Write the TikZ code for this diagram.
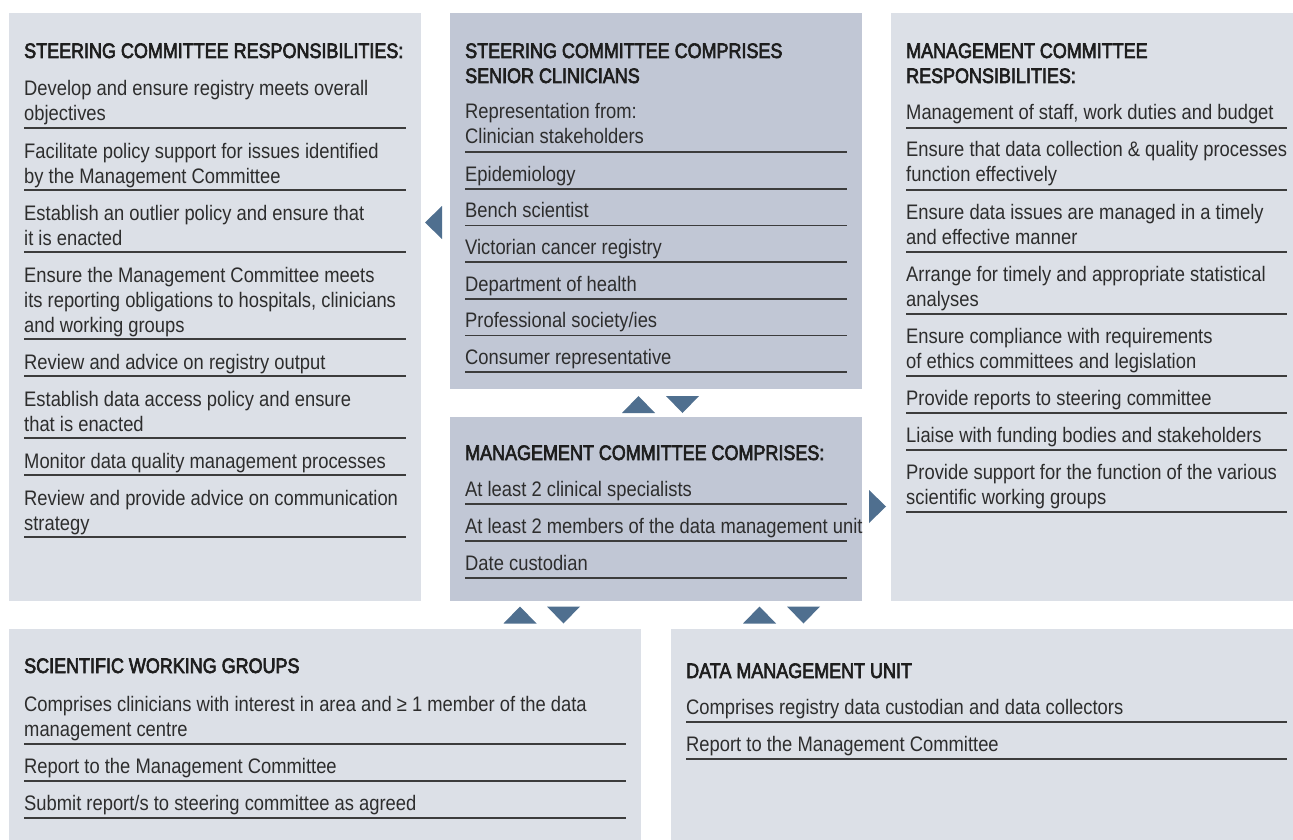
\documentclass[tikz,border=0pt]{standalone}
\usepackage{fontspec}
\setmainfont{Liberation Sans}[FakeStretch=0.875]
\newfontfamily\headfont{Liberation Sans}[FakeStretch=0.855,FakeBold=3]
\definecolor{boxlight}{RGB}{220,224,231}
\definecolor{boxdark}{RGB}{193,199,213}
\definecolor{triblue}{RGB}{79,111,143}
\definecolor{rulegray}{RGB}{60,60,60}
\definecolor{bodytext}{RGB}{45,45,45}
\definecolor{headtext}{RGB}{30,30,30}
% multi-line cell whose reference point is the first baseline
\newcommand\ml[1]{\begin{tabular}[t]{@{}l@{}}#1\end{tabular}}
% up / down markers centred at (x,y)
\newcommand\uptri[2]{\fill[tri] ({#1-16.5},{#2+8.5}) -- ({#1+16.5},{#2+8.5}) -- (#1,{#2-8.5}) -- cycle;}
\newcommand\dntri[2]{\fill[tri] ({#1-16.5},{#2-8.5}) -- ({#1+16.5},{#2-8.5}) -- (#1,{#2+8.5}) -- cycle;}
\begin{document}
\begin{tikzpicture}[x=1pt,y=-1pt,
  panel/.style={anchor=north west,inner sep=0pt,outer sep=0pt,draw=none},
  lightpanel/.style={panel,fill=boxlight},
  darkpanel/.style={panel,fill=boxdark},
  body/.style={anchor=base west,inner sep=0pt,text=bodytext,font=\fontsize{21}{25}\selectfont},
  head/.style={anchor=base west,inner sep=0pt,text=headtext,font=\headfont\fontsize{21}{25}\selectfont},
  rule/.style={draw=rulegray,line width=1.3pt},
  tri/.style={fill=triblue}]
\useasboundingbox (0,0) rectangle (1293,840);
\fill[white] (0,0) rectangle (1293,840);

% panels
\node[lightpanel,minimum width=412pt,minimum height=588pt] (scr) at (9,13) {};
\node[darkpanel,minimum width=412pt,minimum height=376pt] (scc) at (450,13) {};
\node[darkpanel,minimum width=412pt,minimum height=184pt] (mcc) at (450,417) {};
\node[lightpanel,minimum width=402pt,minimum height=588pt] (mcr) at (891,13) {};
\node[lightpanel,minimum width=632pt,minimum height=211pt] (swg) at (9,629) {};
\node[lightpanel,minimum width=622pt,minimum height=211pt] (dmu) at (671,629) {};

% markers
\fill[tri] (425,222.5) -- (442,206) -- (442,239) -- cycle;
\fill[tri] (886,506.5) -- (869,490) -- (869,523) -- cycle;
\uptri{638.5}{404.5}
\dntri{682.5}{404.5}
\uptri{520}{615}
\dntri{563.5}{615}
\uptri{759.5}{615}
\dntri{803.5}{615}

% steering committee responsibilities
\node[head] (scrT) at (24,58) {STEERING COMMITTEE RESPONSIBILITIES:};
\node[body] (scr1) at (24,96) {\ml{Develop and ensure registry meets overall\\objectives}};
\draw[rule] (24,128) -- (406,128);
\node[body] (scr2) at (24,158) {\ml{Facilitate policy support for issues identified\\by the Management Committee}};
\draw[rule] (24,190) -- (406,190);
\node[body] (scr3) at (24,220) {\ml{Establish an outlier policy and ensure that\\it is enacted}};
\draw[rule] (24,252) -- (406,252);
\node[body] (scr4) at (24,282) {\ml{Ensure the Management Committee meets\\its reporting obligations to hospitals, clinicians\\and working groups}};
\draw[rule] (24,339) -- (406,339);
\node[body] (scr5) at (24,369) {Review and advice on registry output};
\draw[rule] (24,376) -- (406,376);
\node[body] (scr6) at (24,406) {\ml{Establish data access policy and ensure\\that is enacted}};
\draw[rule] (24,438) -- (406,438);
\node[body] (scr7) at (24,468) {Monitor data quality management processes};
\draw[rule] (24,475) -- (406,475);
\node[body] (scr8) at (24,505) {\ml{Review and provide advice on communication\\strategy}};
\draw[rule] (24,537) -- (406,537);

% steering committee composition
\node[head] (sccT) at (465,58) {\ml{STEERING COMMITTEE COMPRISES\\SENIOR CLINICIANS}};
\node[body] (scc1) at (465,119) {\ml{Representation from:\\Clinician stakeholders}};
\draw[rule] (465,152) -- (847,152);
\node[body] (scc2) at (465,181) {Epidemiology};
\draw[rule] (465,189) -- (847,189);
\node[body] (scc3) at (465,217.5) {Bench scientist};
\draw[rule] (465,225.5) -- (847,225.5);
\node[body] (scc4) at (465,254) {Victorian cancer registry};
\draw[rule] (465,262) -- (847,262);
\node[body] (scc5) at (465,291) {Department of health};
\draw[rule] (465,299) -- (847,299);
\node[body] (scc6) at (465,327.5) {Professional society/ies};
\draw[rule] (465,335.5) -- (847,335.5);
\node[body] (scc7) at (465,364) {Consumer representative};
\draw[rule] (465,372) -- (847,372);

% management committee composition
\node[head] (mccT) at (465,460) {MANAGEMENT COMMITTEE COMPRISES:};
\node[body] (mcc1) at (465,496) {At least 2 clinical specialists};
\draw[rule] (465,504) -- (847,504);
\node[body] (mcc2) at (465,533) {At least 2 members of the data management unit};
\draw[rule] (465,541) -- (847,541);
\node[body] (mcc3) at (465,570) {Date custodian};
\draw[rule] (465,578) -- (847,578);

% management committee responsibilities
\node[head] (mcrT) at (906,58) {\ml{MANAGEMENT COMMITTEE\\RESPONSIBILITIES:}};
\node[body] (mcr1) at (906,120) {Management of staff, work duties and budget};
\draw[rule] (906,128) -- (1287,128);
\node[body] (mcr2) at (906,157) {\ml{Ensure that data collection \& quality processes\\function effectively}};
\draw[rule] (906,190) -- (1287,190);
\node[body] (mcr3) at (906,219) {\ml{Ensure data issues are managed in a timely\\and effective manner}};
\draw[rule] (906,252) -- (1287,252);
\node[body] (mcr4) at (906,281) {\ml{Arrange for timely and appropriate statistical\\analyses}};
\draw[rule] (906,314) -- (1287,314);
\node[body] (mcr5) at (906,343) {\ml{Ensure compliance with requirements\\of ethics committees and legislation}};
\draw[rule] (906,376) -- (1287,376);
\node[body] (mcr6) at (906,405) {Provide reports to steering committee};
\draw[rule] (906,413) -- (1287,413);
\node[body] (mcr7) at (906,442) {Liaise with funding bodies and stakeholders};
\draw[rule] (906,450) -- (1287,450);
\node[body] (mcr8) at (906,479) {\ml{Provide support for the function of the various\\scientific working groups}};
\draw[rule] (906,512) -- (1287,512);

% scientific working groups
\node[head] (swgT) at (24,673) {SCIENTIFIC WORKING GROUPS};
\node[body] (swg1) at (24,711) {\ml{Comprises clinicians with interest in area and ≥ 1 member of the data\\management centre}};
\draw[rule] (24,744) -- (626,744);
\node[body] (swg2) at (24,773) {Report to the Management Committee};
\draw[rule] (24,781) -- (626,781);
\node[body] (swg3) at (24,810) {Submit report/s to steering committee as agreed};
\draw[rule] (24,818) -- (626,818);

% data management unit
\node[head] (dmuT) at (686,678) {DATA MANAGEMENT UNIT};
\node[body] (dmu1) at (686,714) {Comprises registry data custodian and data collectors};
\draw[rule] (686,722) -- (1287,722);
\node[body] (dmu2) at (686,751) {Report to the Management Committee};
\draw[rule] (686,759) -- (1287,759);
\end{tikzpicture}
\end{document}
